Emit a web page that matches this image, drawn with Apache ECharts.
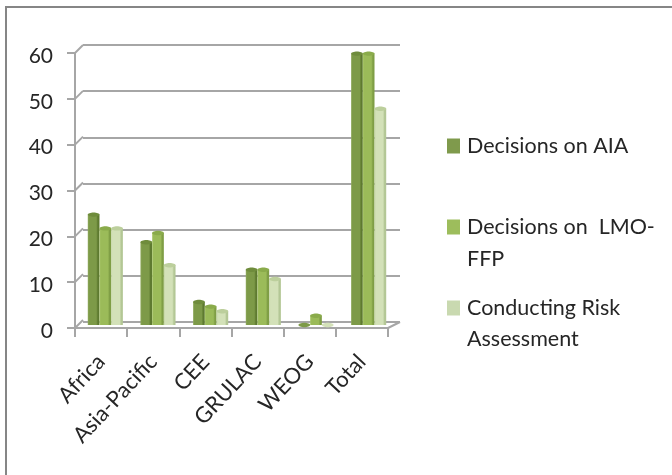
<!DOCTYPE html>
<html><head><meta charset="utf-8">
<style>html,body{margin:0;padding:0;background:#fff}#c{width:672px;height:475px}</style>
<script src="https://cdn.jsdelivr.net/npm/echarts@6/dist/echarts.min.js"></script>
</head><body><div id="c"></div>
<script>
const categories = ['Africa','Asia-Pacific','CEE','GRULAC','WEOG','Total'];
const decisionsAIA = [24,18,5,12,0,59];
const decisionsLMO = [21,20,4,12,2,59];
const riskAssessment = [21,13,3,10,0,47];
const yTicks = [0,10,20,30,40,50,60];
const seriesNames = ['Decisions on AIA','Decisions on  LMO-FFP','Conducting Risk Assessment'];

const FONT = 'Lato';
const AXIS = '#a6a6a6';
const TXT = '#262626';
const FRONT = {left:75,top:53,width:313,height:275};
const BACK  = {left:83,top:45,width:317,height:277};
const MID   = {left:79,top:49,width:316,height:276};
const BW = 11.7;

function barRender(offset, side, body, edge, cap){
  return function(params, api){
    const x0 = api.coord([api.value(0), 0]);
    const p  = api.coord([api.value(0), api.value(1)]);
    const l = x0[0] + offset*BW - BW/2;
    const capH = 2.2;
    const fill = {type:'linear',x:0,y:0,x2:1,y2:0,colorStops:[
      {offset:0,color:side},{offset:0.12,color:body},{offset:0.72,color:body},{offset:0.86,color:edge},{offset:1,color:edge}]};
    const children = [];
    if (api.value(1) > 0) children.push({type:'rect',shape:{x:l,y:p[1],width:BW,height:x0[1]-p[1]},style:{fill}});
    children.push({type:'ellipse',shape:{cx:l+BW/2,cy:p[1],rx:BW/2,ry:capH},style:{fill:api.value(1)>0?cap:body}});
    return {type:'group',children};
  };
}
function barSeries(name, values, offset, side, body, edge, cap, legendColor){
  return {type:'custom',name,xAxisIndex:2,yAxisIndex:2,clip:false,z:5,
    itemStyle:{color:legendColor},
    encode:{x:0,y:1},
    data:values.map((v,i)=>[categories[i],v]),
    renderItem:barRender(offset,side,body,edge,cap)};
}
function leg(name, top, label){
  return {data:[name],left:447,top,orient:'vertical',padding:0,itemWidth:13,itemHeight:15,itemGap:0,
    icon:'rect',selectedMode:false,
    formatter:()=>label,
    textStyle:{fontFamily:FONT,fontSize:21.5,color:TXT,padding:[0,0,0,2]}};
}
function secondLine(t, y){
  return {type:'text',left:467,top:y,style:{text:t,fontFamily:FONT,fontSize:21.5,fill:TXT}};
}

const chart = echarts.init(document.getElementById('c'),null,{renderer:'canvas'});
chart.setOption({
  animation:false,
  backgroundColor:'#fff',
  grid:[FRONT,BACK,MID].map(g=>Object.assign({containLabel:false},g)),
  xAxis:[
    {gridIndex:0,type:'category',data:categories,
      axisLine:{show:true,lineStyle:{color:AXIS,width:2}},
      axisTick:{show:true,length:9,lineStyle:{color:AXIS,width:2}},
      axisLabel:{interval:0,rotate:47,margin:30,fontFamily:FONT,fontSize:22,color:TXT},
      splitLine:{show:false}},
    {gridIndex:1,type:'category',data:categories,show:false},
    {gridIndex:2,type:'category',data:categories,show:false}
  ],
  yAxis:[
    {gridIndex:0,type:'value',min:0,max:60,interval:10,
      axisLine:{show:true,lineStyle:{color:AXIS,width:2}},
      axisTick:{show:true,length:8,lineStyle:{color:AXIS,width:2}},
      axisLabel:{margin:22,formatter:'{a|{value}}',
        rich:{a:{fontFamily:FONT,fontSize:21,color:TXT,padding:[6,0,0,0]}}},
      splitLine:{show:false}},
    {gridIndex:1,type:'value',min:0,max:60,interval:10,
      axisLine:{show:false},axisTick:{show:false},axisLabel:{show:false},
      splitLine:{show:true,lineStyle:{color:AXIS,width:2}}},
    {gridIndex:2,type:'value',min:0,max:60,interval:10,show:false}
  ],
  legend:[
    leg(seriesNames[0],135,'Decisions on AIA'),
    leg(seriesNames[1],216,'Decisions on  LMO-'),
    leg(seriesNames[2],297,'Conducting Risk')
  ],
  graphic:[
    {type:'rect',shape:{x:6,y:7,width:700,height:500},style:{fill:'none',stroke:'#868686',lineWidth:2},silent:true,z:-10},
    secondLine('FFP',248),
    secondLine('Assessment',328)
  ],
  series:[
    {type:'custom',xAxisIndex:0,yAxisIndex:0,clip:false,z:2,silent:true,
      data:yTicks.map(v=>[0,v]),encode:{y:1},
      renderItem:function(params,api){
        const y = api.coord([0,api.value(1)])[1];
        return {type:'line',shape:{x1:FRONT.left,y1:y,x2:BACK.left,y2:y-(FRONT.top-BACK.top)},
          style:{stroke:AXIS,lineWidth:2}};
      }},
    {type:'custom',xAxisIndex:0,yAxisIndex:0,clip:false,z:2,silent:true,
      data:[[0,0]],encode:{y:1},
      renderItem:function(params,api){
        const y = api.coord([0,0])[1];
        return {type:'line',shape:{x1:FRONT.left+FRONT.width,y1:y,x2:BACK.left+BACK.width,y2:BACK.top+BACK.height},
          style:{stroke:AXIS,lineWidth:2}};
      }},
    barSeries(seriesNames[0],decisionsAIA,-1,'#8fa95c','#7d9a48','#5e7a30','#6f8c3c','#7f9a4c'),
    barSeries(seriesNames[1],decisionsLMO,0,'#a9c76b','#9bbb59','#7f9e45','#8aab4b','#9dbd5c'),
    barSeries(seriesNames[2],riskAssessment,1,'#c2d4a0','#d3e1b8','#b3c795','#bccf9c','#c9d9b0')
  ]
});
</script></body></html>
